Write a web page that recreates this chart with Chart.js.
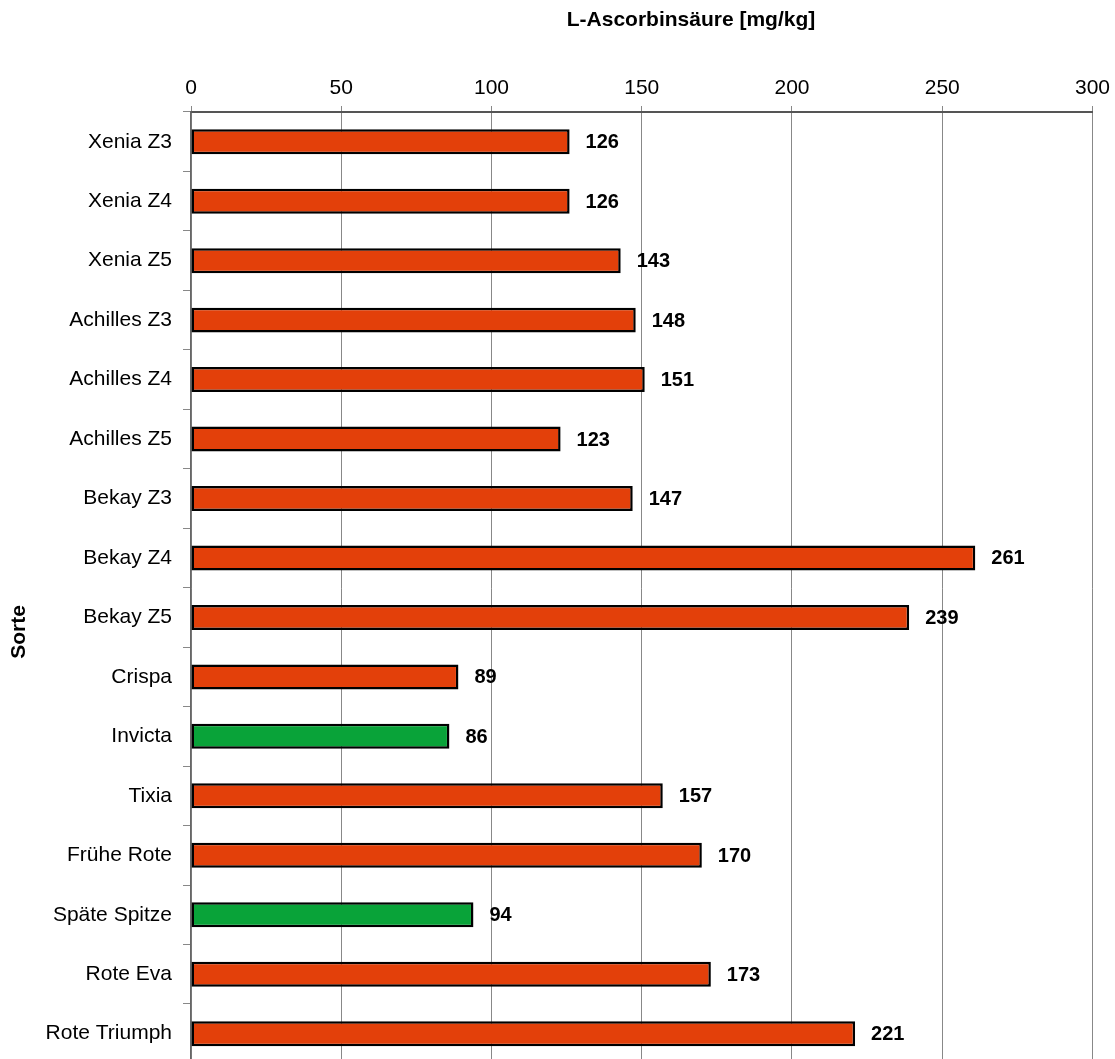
<!DOCTYPE html>
<html>
<head>
<meta charset="utf-8">
<script src="https://cdn.jsdelivr.net/npm/chart.js@4/dist/chart.umd.min.js"></script>
<style>
    html, body { margin: 0; padding: 0; background: #fff; overflow: hidden; }
</style>
</head>
<body>
<canvas id="barChart" width="1115" height="1087"></canvas>
<script>
// Data
const sorten = ['Xenia Z3', 'Xenia Z4', 'Xenia Z5', 'Achilles Z3', 'Achilles Z4', 'Achilles Z5',
    'Bekay Z3', 'Bekay Z4', 'Bekay Z5', 'Crispa', 'Invicta', 'Tixia', 'Frühe Rote',
    'Späte Spitze', 'Rote Eva', 'Rote Triumph'];
const ascorbin = [126, 126, 143, 148, 151, 123, 147, 261, 239, 89, 86, 157, 170, 94, 173, 221];
const gruenSorten = ['Invicta', 'Späte Spitze'];
const xTicks = [0, 50, 100, 150, 200, 250, 300];

const FONT = '"Liberation Sans", Arial, sans-serif';

// value labels + free axis titles
const labelPlugin = {
    id: 'labels',
    afterDatasetsDraw(chart) {
        const ctx = chart.ctx;
        const meta = chart.getDatasetMeta(0);
        ctx.save();
        ctx.fillStyle = '#000';
        ctx.font = 'bold 20px ' + FONT;
        ctx.textAlign = 'left';
        ctx.textBaseline = 'middle';
        meta.data.forEach((bar, i) => {
            ctx.fillText(ascorbin[i], bar.x + 16, bar.y + 1);
        });
        // titles
        ctx.font = 'bold 21px ' + FONT;
        ctx.textAlign = 'center';
        ctx.fillText('L-Ascorbinsäure [mg/kg]', 691, 20);
        ctx.translate(19, 632);
        ctx.rotate(-Math.PI / 2);
        ctx.fillText('Sorte', 0, 0);
        ctx.restore();
    }
};

const bar = document.getElementById('barChart');
if (bar) {
    new Chart(bar, {
        type: 'bar',
        data: {
            labels: sorten,
            datasets: [{
                data: ascorbin,
                backgroundColor: sorten.map(s => gruenSorten.includes(s) ? '#09a339' : '#e3400a'),
                borderColor: '#000',
                borderWidth: 2.5,
                borderSkipped: false,
                barPercentage: 0.42,
                categoryPercentage: 1
            }]
        },
        options: {
            indexAxis: 'y',
            responsive: false,
            animation: false,
            layout: { padding: { left: 0, right: 22, top: 0, bottom: 0 } },
            plugins: {
                legend: { display: false },
                tooltip: { enabled: false }
            },
            scales: {
                x: {
                    position: 'top',
                    min: 0,
                    max: 300,
                    afterBuildTicks: (s) => { s.ticks = xTicks.map(v => ({ value: v })); },
                    afterFit: (s) => { s.height = 112; },
                    grid: { color: '#888', lineWidth: 1, tickLength: 6, drawTicks: true },
                    border: { color: '#555', width: 2 },
                    ticks: {
                        color: '#000',
                        font: { family: FONT, size: 21 },
                        padding: 5,
                        maxRotation: 0
                    }
                },
                y: {
                    afterFit: (s) => { s.width = 191; },
                    grid: { offset: true, drawOnChartArea: false, color: '#888', tickLength: 8 },
                    border: { color: '#666', width: 1.5 },
                    ticks: {
                        color: '#000',
                        font: { family: FONT, size: 21 },
                        padding: 11,
                        autoSkip: false
                    }
                }
            }
        },
        plugins: [labelPlugin]
    });
}
</script>
</body>
</html>
